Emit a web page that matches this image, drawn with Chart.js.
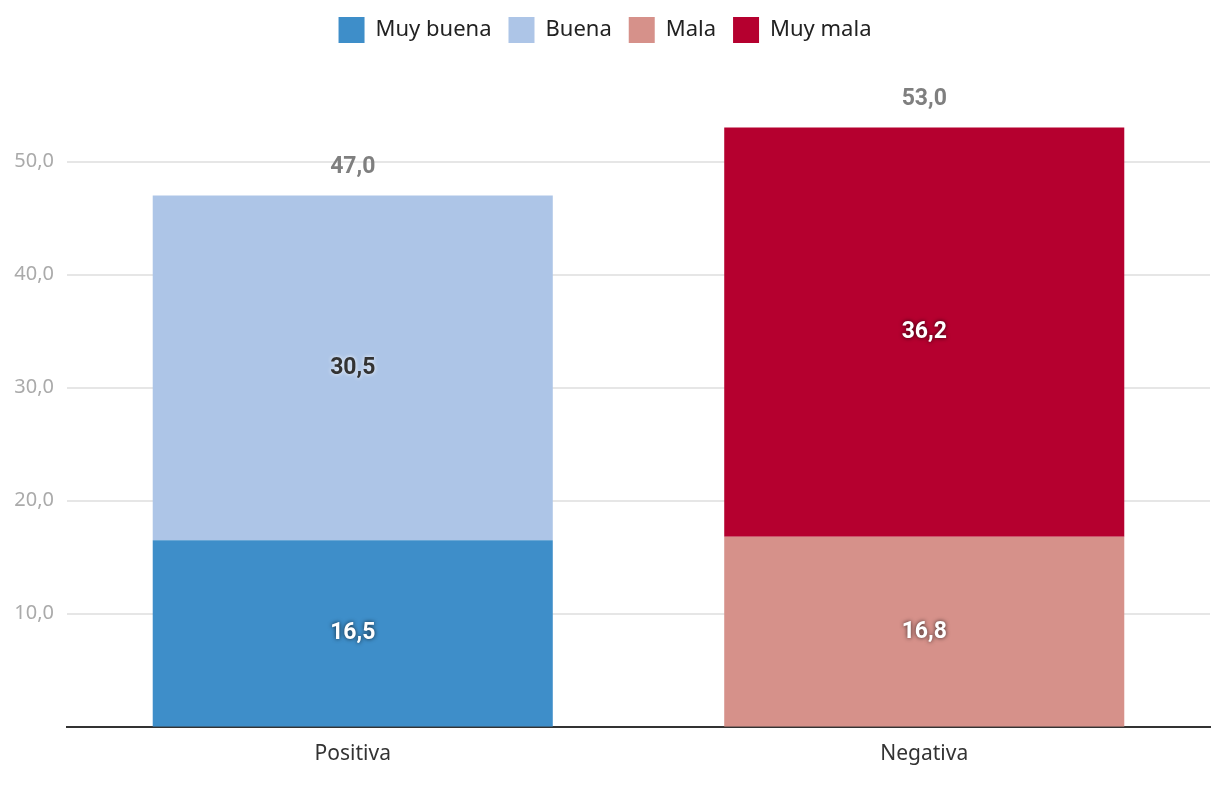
<!DOCTYPE html>
<html><head><meta charset="utf-8">
<script src="https://cdn.jsdelivr.net/npm/chart.js@4.4.0/dist/chart.umd.min.js"></script>
<style>html,body{margin:0;padding:0;background:#fff}#wrap{width:1220px;height:788px}</style>
</head><body><div id="wrap"><canvas id="c" width="1220" height="788"></canvas></div>
<script>
const categories = ["Positiva", "Negativa"];
const seriesNames = ["Muy buena", "Buena", "Mala", "Muy mala"];
const muyBuena = [16.5, null];
const buena = [30.5, null];
const mala = [null, 16.8];
const muyMala = [null, 36.2];
const totals = [47.0, 53.0];
const colors = ["#3e8ec9", "#adc5e7", "#d6918a", "#b5002f"];
const labelDark = [false, true, false, false];

const fmt = v => v.toFixed(1).replace('.', ',');

const legendSpace = {
  id: 'legendSpace',
  beforeLayout(chart) {
    const lg = chart.legend;
    if (lg && !lg._patched) {
      lg._patched = true;
      const origFit = lg.fit.bind(lg);
      lg.fit = function () { origFit(); this.height += 52; };
    }
  }
};

const labelPlugin = {
  id: 'labels',
  afterDatasetsDraw(chart) {
    const ctx = chart.ctx;
    ctx.save();
    ctx.font = 'bold 23px Roboto';
    ctx.textAlign = 'center';
    ctx.textBaseline = 'middle';
    chart.data.datasets.forEach((ds, di) => {
      const meta = chart.getDatasetMeta(di);
      meta.data.forEach((bar, i) => {
        const v = ds.data[i];
        if (v == null) return;
        const yMid = (bar.y + bar.base) / 2;
        if (labelDark[di]) {
          ctx.shadowColor = 'rgba(255,255,255,0.95)';
          ctx.fillStyle = '#333333';
        } else {
          ctx.shadowColor = 'rgba(0,0,0,0.75)';
          ctx.fillStyle = '#ffffff';
        }
        ctx.shadowBlur = 4;
        ctx.shadowOffsetX = 0; ctx.shadowOffsetY = 0;
        ctx.fillText(fmt(v), bar.x, yMid);
      });
    });
    ctx.shadowBlur = 0; ctx.shadowColor = 'transparent';
    ctx.fillStyle = '#7f7f7f';
    const ys = chart.scales.y, xs = chart.scales.x;
    totals.forEach((t, i) => {
      ctx.fillText(fmt(t), xs.getPixelForValue(i), ys.getPixelForValue(t) - 28);
    });
    ctx.restore();
  }
};

new Chart(document.getElementById('c'), {
  type: 'bar',
  data: {
    labels: categories,
    datasets: [
      { label: seriesNames[0], data: muyBuena, backgroundColor: colors[0] },
      { label: seriesNames[1], data: buena, backgroundColor: colors[1] },
      { label: seriesNames[2], data: mala, backgroundColor: colors[2] },
      { label: seriesNames[3], data: muyMala, backgroundColor: colors[3] }
    ]
  },
  options: {
    responsive: false,
    animation: false,
    devicePixelRatio: 1,
    layout: { padding: { top: 0, right: 10, bottom: 14, left: 0 } },
    datasets: { bar: { barPercentage: 0.7, categoryPercentage: 1.0 } },
    plugins: {
      legend: {
        position: 'top',
        labels: {
          boxWidth: 26, boxHeight: 26, padding: 17,
          color: '#222', font: { family: '"Noto Sans"', size: 22 }
        }
      },
      tooltip: { enabled: false }
    },
    scales: {
      x: {
        stacked: true,
        grid: { display: false },
        border: { display: true, color: '#333', width: 2 },
        ticks: { color: '#333', font: { family: '"Noto Sans"', size: 21 }, padding: 7 }
      },
      y: {
        stacked: true,
        min: 0, max: 55,
        afterFit(s) { s.width = 67; },
        grid: { color: '#e6e6e6', lineWidth: 2, drawTicks: false },
        border: { display: false },
        ticks: {
          stepSize: 10, padding: 13, color: '#aaaaaa',
          font: { family: '"Noto Sans"', size: 20 },
          callback: v => (v === 0 || v % 10 !== 0) ? null : fmt(v)
        }
      }
    }
  },
  plugins: [legendSpace, labelPlugin]
});
</script></body></html>
